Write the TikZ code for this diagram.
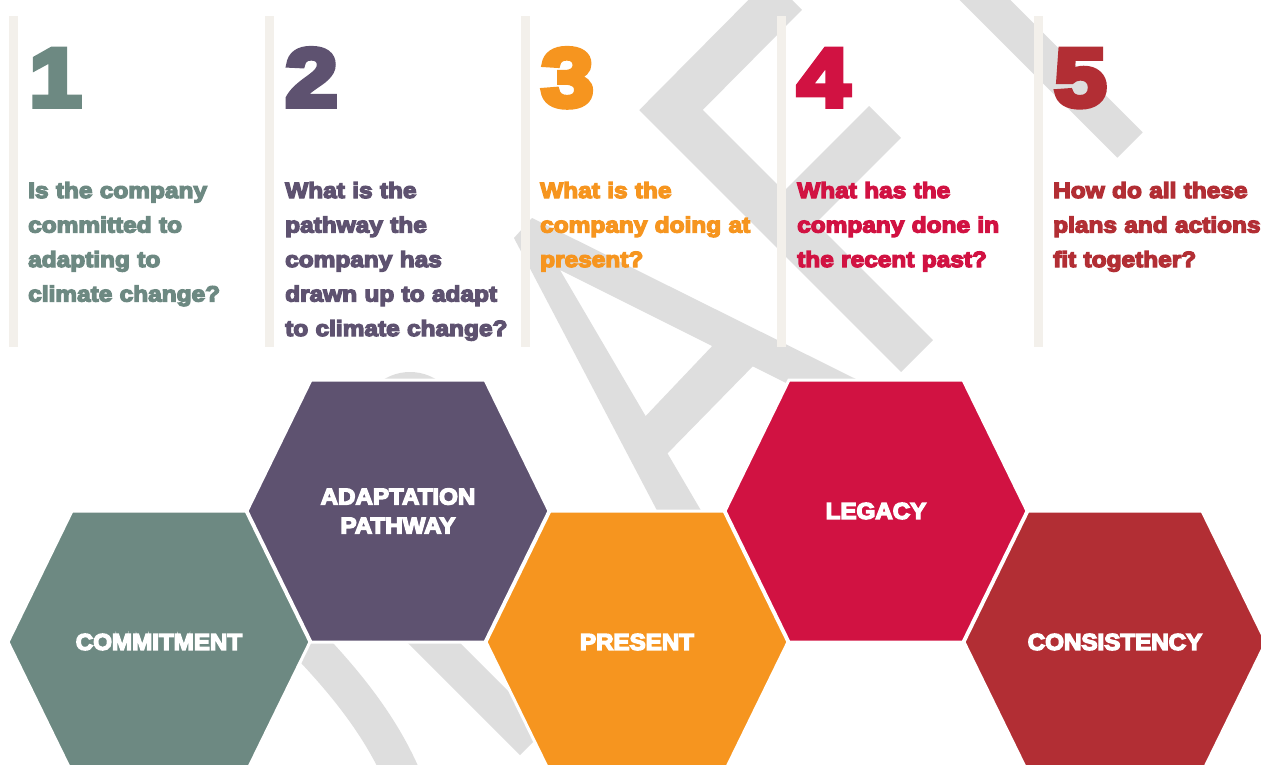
\documentclass[tikz,border=0pt]{standalone}
\usepackage{fontspec}
\newfontfamily\hvtext{Liberation Sans Bold}[FakeBold=6,FakeStretch=1.11]
\newfontfamily\hvnum{Liberation Sans Bold}[FakeBold=7,FakeStretch=1.15]
\newfontfamily\hvhex{Liberation Sans Bold}[FakeBold=6,FakeStretch=1.05]
\definecolor{cTeal}{HTML}{6D8982}
\definecolor{cPurp}{HTML}{5E5270}
\definecolor{cOrng}{HTML}{F6951F}
\definecolor{cCrim}{HTML}{D11242}
\definecolor{cRed}{HTML}{B22E34}
\definecolor{cGray}{HTML}{DEDEDE}
\definecolor{cBar}{HTML}{F3F0EB}
\tikzset{
  wm/.style={draw=cGray, line width=#1, line cap=butt, line join=miter},
  barfill/.style={fill=cBar},
  qtext/.style={anchor=base west, inner sep=0pt, align=left, text width=250pt,
    font=\hvtext\fontsize{22}{34.5}\selectfont},
  numtext/.style={anchor=base west, inner sep=0pt, font=\hvnum\fontsize{82}{82}\selectfont},
  hexlabel/.style={text=white, align=center, inner sep=0pt, font=\hvhex\fontsize{23}{29}\selectfont},
  hexshape/.style={draw=white, line width=3pt, line join=miter},
}
\begin{document}
\begin{tikzpicture}[x=1pt,y=-1pt]
\useasboundingbox (0,0) rectangle (1261,765);
\fill[white] (0,0) rectangle (1261,765);
\begin{scope}
\clip (0,0) rectangle (1261,765);
% watermark
\draw[wm=36] (955,-30) -- (1130,145);
\draw[wm=45] (786,-6) -- (671,110) -- (917,356);
\draw[wm=45] (885,122) -- (784,223);
\fill[cGray] (514,238) -- (683,560) -- (730,560) -- (560,270) -- (900,440) -- (900,401) -- (532,218) -- cycle;
\fill[cGray] (640,422) -- (716,342) -- (757,362) -- (663,458) -- cycle;
\fill[cGray] (410,422) circle (50pt);
\draw[wm=37] (290,625) .. controls (345,680) and (385,730) .. (408,790);
\draw[wm=37] (400,609) -- (533,742);
% bars
\fill[barfill] (9,16) rectangle (18,347);
\fill[barfill] (265,16) rectangle (274,347);
\fill[barfill] (521,16) rectangle (530,347);
\fill[barfill] (777,16) rectangle (786,347);
\fill[barfill] (1034,16) rectangle (1043,347);
% numbers
\node[numtext, text=cTeal] (n1) at (29,106) {1};
\node[numtext, text=cPurp] (n2) at (285,106) {2};
\node[numtext, text=cOrng] (n3) at (541,106) {3};
\node[numtext, text=cCrim] (n4) at (797,106) {4};
\node[numtext, text=cRed] (n5) at (1054,106) {5};
% questions
\node[qtext, text=cTeal] (q1) at (28,198) {Is the company\\committed to\\adapting to\\climate change?};
\node[qtext, text=cPurp] (q2) at (285,198) {What is the\\pathway the\\company has\\drawn up to adapt\\to climate change?};
\node[qtext, text=cOrng] (q3) at (540,198) {What is the\\company doing at\\present?};
\node[qtext, text=cCrim] (q4) at (797,198) {What has the\\company done in\\the recent past?};
\node[qtext, text=cRed] (q5) at (1053,198) {How do all these\\plans and actions\\fit together?};
% hexagons
\coordinate (c1) at (159,642);
\coordinate (c2) at (398,511);
\coordinate (c3) at (637,642);
\coordinate (c4) at (876,511);
\coordinate (c5) at (1115,642);
\draw[hexshape, fill=cTeal] (c1) +(-151,0) -- +(-87,-131) -- +(87,-131) -- +(151,0) -- +(87,131) -- +(-87,131) -- cycle;
\draw[hexshape, fill=cPurp] (c2) +(-151,0) -- +(-87,-131) -- +(87,-131) -- +(151,0) -- +(87,131) -- +(-87,131) -- cycle;
\draw[hexshape, fill=cOrng] (c3) +(-151,0) -- +(-87,-131) -- +(87,-131) -- +(151,0) -- +(87,131) -- +(-87,131) -- cycle;
\draw[hexshape, fill=cCrim] (c4) +(-151,0) -- +(-87,-131) -- +(87,-131) -- +(151,0) -- +(87,131) -- +(-87,131) -- cycle;
\draw[hexshape, fill=cRed] (c5) +(-151,0) -- +(-87,-131) -- +(87,-131) -- +(151,0) -- +(87,131) -- +(-87,131) -- cycle;
\node[hexlabel] (h1) at (c1) {COMMITMENT};
\node[hexlabel] (h2) at (c2) {ADAPTATION\\PATHWAY};
\node[hexlabel] (h3) at (c3) {PRESENT};
\node[hexlabel] (h4) at (c4) {LEGACY};
\node[hexlabel] (h5) at (c5) {CONSISTENCY};
\end{scope}
\end{tikzpicture}
\end{document}
